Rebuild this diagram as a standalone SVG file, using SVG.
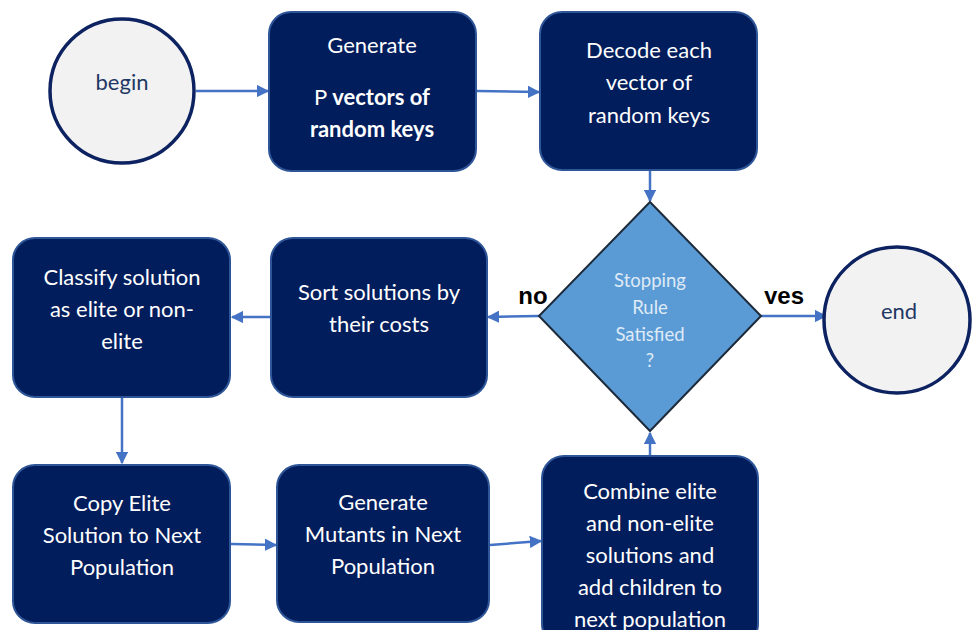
<svg xmlns="http://www.w3.org/2000/svg" width="975" height="630" viewBox="0 0 975 630">
<defs>
<style>
.box{fill:#021d5c;stroke:#2e5597;stroke-width:2}
.circ{fill:#f2f2f2;stroke:#0d2260;stroke-width:3.5}
.t{font-family:Lato,"Open Sans",sans-serif;font-size:22px;fill:#ffffff;text-anchor:middle}
.b{font-weight:bold}
.ct{font-family:Lato,"Open Sans",sans-serif;font-size:22px;fill:#1f3864;text-anchor:middle}
.dt{font-family:Lato,"Open Sans",sans-serif;font-size:18.5px;fill:#dfeaf7;text-anchor:middle}
.lbl{font-family:"Liberation Sans",Arial,sans-serif;font-size:24px;font-weight:bold;fill:#000;text-anchor:middle}
.c{stroke:#4472c4;stroke-width:2.5;fill:none;marker-end:url(#ah)}
</style>
<marker id="ah" viewBox="0 0 10 10" refX="9" refY="5" markerWidth="5" markerHeight="5" orient="auto" markerUnits="strokeWidth">
<path d="M0,0 L10,5 L0,10 z" fill="#4472c4"/>
</marker>
<clipPath id="yclip"><rect x="740" y="270" width="80" height="34"/></clipPath>
</defs>
<rect width="975" height="630" fill="#ffffff"/>
<g id="connectors">
<line class="c" x1="196" y1="91" x2="268" y2="91"/>
<line class="c" x1="477" y1="91" x2="539" y2="92"/>
<line class="c" x1="650" y1="171" x2="650" y2="201"/>
<line class="c" x1="761" y1="316" x2="826" y2="316"/>
<line class="c" x1="539" y1="316" x2="488" y2="317"/>
<line class="c" x1="271" y1="317" x2="232" y2="317"/>
<line class="c" x1="122" y1="398" x2="122" y2="463"/>
<line class="c" x1="231" y1="544" x2="276" y2="545"/>
<line class="c" x1="490" y1="545" x2="541" y2="541"/>
<line class="c" x1="650" y1="456" x2="650" y2="433"/>
</g>
<g id="begin">
<circle class="circ" cx="122" cy="91" r="72"/>
<text class="ct" x="122" y="90">begin</text>
</g>
<g id="generate">
<rect class="box" x="269" y="12" width="207" height="159" rx="22"/>
<text class="t" x="372" y="53">Generate</text>
<text class="t" x="372" y="105">P <tspan class="b">vectors of</tspan></text>
<text class="t b" x="372" y="137">random keys</text>
</g>
<g id="decode">
<rect class="box" x="540" y="12" width="217" height="158" rx="22"/>
<text class="t" x="649" y="58">Decode each</text>
<text class="t" x="649" y="90">vector of</text>
<text class="t" x="649" y="123">random keys</text>
</g>
<g id="stopping">
<polygon points="650,202 761,316 650,431 539,316" fill="#5b9bd5" stroke="#1c2a3a" stroke-width="2"/>
<text class="dt" x="650" y="287">Stopping</text>
<text class="dt" x="650" y="314">Rule</text>
<text class="dt" x="650" y="341">Satisfied</text>
<text class="dt" x="650" y="367">?</text>
</g>
<g id="labels">
<text class="lbl" x="533" y="304">no</text>
<text class="lbl" x="784" y="304" clip-path="url(#yclip)">yes</text>
</g>
<g id="end">
<circle class="circ" cx="897" cy="320" r="73"/>
<text class="ct" x="899" y="319">end</text>
</g>
<g id="sort">
<rect class="box" x="271" y="238" width="216" height="159" rx="22"/>
<text class="t" x="379" y="300">Sort solutions by</text>
<text class="t" x="379" y="332">their costs</text>
</g>
<g id="classify">
<rect class="box" x="13" y="238" width="217" height="159" rx="22"/>
<text class="t" x="122" y="285">Classify solution</text>
<text class="t" x="122" y="317">as elite or non-</text>
<text class="t" x="122" y="349">elite</text>
</g>
<g id="copy">
<rect class="box" x="13" y="465" width="217" height="158" rx="22"/>
<text class="t" x="122" y="511">Copy Elite</text>
<text class="t" x="122" y="543">Solution to Next</text>
<text class="t" x="122" y="575">Population</text>
</g>
<g id="mutants">
<rect class="box" x="277" y="465" width="212" height="157" rx="22"/>
<text class="t" x="383" y="510">Generate</text>
<text class="t" x="383" y="542">Mutants in Next</text>
<text class="t" x="383" y="574">Population</text>
</g>
<g id="combine">
<rect class="box" x="542" y="456" width="216" height="190" rx="22"/>
<text class="t" x="650" y="499">Combine elite</text>
<text class="t" x="650" y="531">and non-elite</text>
<text class="t" x="650" y="563">solutions and</text>
<text class="t" x="650" y="595">add children to</text>
<text class="t" x="650" y="627">next population</text>
</g>
</svg>
